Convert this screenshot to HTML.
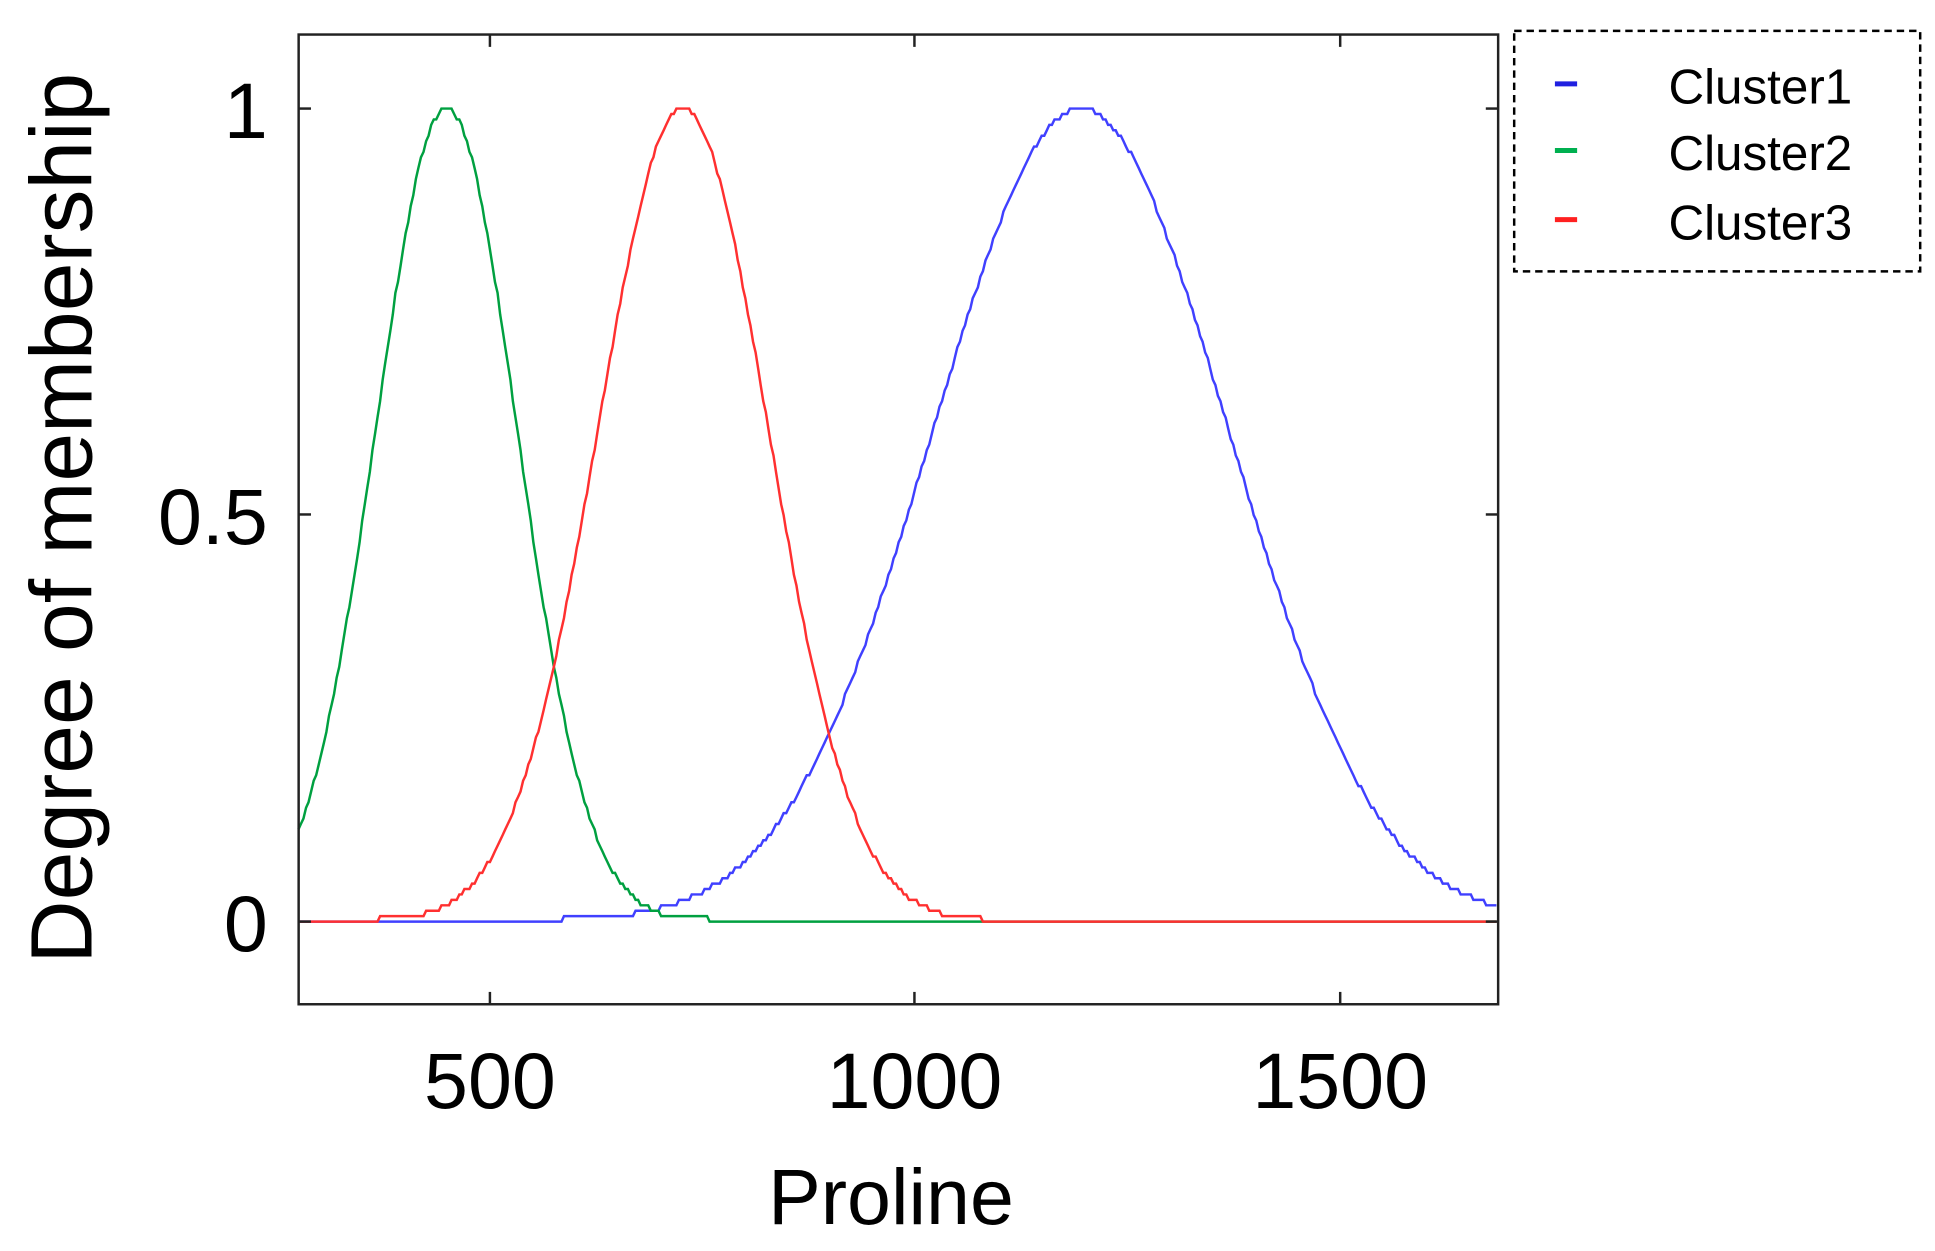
<!DOCTYPE html>
<html><head><meta charset="utf-8"><style>
html,body{margin:0;padding:0;background:#fff;}
svg{display:block;}
text{font-family:"Liberation Sans",Arial,sans-serif;fill:#000;}
</style></head><body>
<svg id="s" width="1935" height="1251" viewBox="0 0 1568 1014" preserveAspectRatio="none" xmlns="http://www.w3.org/2000/svg">
<rect width="1568" height="1014" fill="#fff"/>
<g id="curves" fill="none" stroke-width="2"></g>
<rect x="242" y="28" width="972" height="786" fill="none" stroke="#222" stroke-width="2"/>
<g stroke="#222" stroke-width="2">
<line x1="397" y1="814" x2="397" y2="804"/><line x1="741" y1="814" x2="741" y2="804"/><line x1="1086" y1="814" x2="1086" y2="804"/>
<line x1="397" y1="28" x2="397" y2="38"/><line x1="741" y1="28" x2="741" y2="38"/><line x1="1086" y1="28" x2="1086" y2="38"/>
<line x1="242" y1="88" x2="252" y2="88"/><line x1="242" y1="417" x2="252" y2="417"/><line x1="242" y1="747" x2="252" y2="747"/>
<line x1="1214" y1="88" x2="1204" y2="88"/><line x1="1214" y1="417" x2="1204" y2="417"/><line x1="1214" y1="747" x2="1204" y2="747"/>
</g>
<g font-size="64" text-anchor="end">
<text x="217" y="112">1</text><text x="217" y="441">0.5</text><text x="217" y="771">0</text>
</g>
<g font-size="64" text-anchor="middle">
<text x="397" y="898">500</text><text x="741" y="898">1000</text><text x="1086" y="898">1500</text>
<text x="722" y="992" font-size="64">Proline</text>
</g>
<text transform="translate(74,420) rotate(-90)" font-size="71" text-anchor="middle">Degree of membership</text>
<rect x="1227" y="25" width="329" height="195" fill="#fff" stroke="#000" stroke-width="2" stroke-dasharray="6,4"/>
<g stroke-width="4">
<line x1="1260" y1="68" x2="1278" y2="68" stroke="#2020e0"/>
<line x1="1260" y1="122" x2="1278" y2="122" stroke="#00b050"/>
<line x1="1260" y1="178" x2="1278" y2="178" stroke="#ff2020"/>
</g>
<g font-size="40">
<text x="1352" y="84">Cluster1</text><text x="1352" y="138">Cluster2</text><text x="1352" y="194">Cluster3</text>
</g>
</svg>
<script>
(function(){
var g=document.getElementById('curves');
function px(v){return 397+(v-500)*0.69;}
function py(m){return 747-m*659;}
function curve(c,s,col,x0,x1,thr){
 var d='';
 for(var v=275;v<=1684;v+=3){
  var m=Math.exp(-(v-c)*(v-c)/(2*s*s));
  if(m<thr||v<x0||v>x1)m=0;
  else m=Math.max(Math.round(m*150)/150,1/150);
  d+=(d?'L':'M')+px(v).toFixed(1)+','+py(m).toFixed(1);
 }
 var p=document.createElementNS('http://www.w3.org/2000/svg','path');
 p.setAttribute('d',d);p.setAttribute('stroke',col);g.appendChild(p);
}
curve(1194,173,'#4040ff',371,2000,0.002);
curve(449,83,'#00a040',0,760,0.001);
curve(727,100,'#ff3030',371,1077,0.0005);
})();
</script>
</body></html>
